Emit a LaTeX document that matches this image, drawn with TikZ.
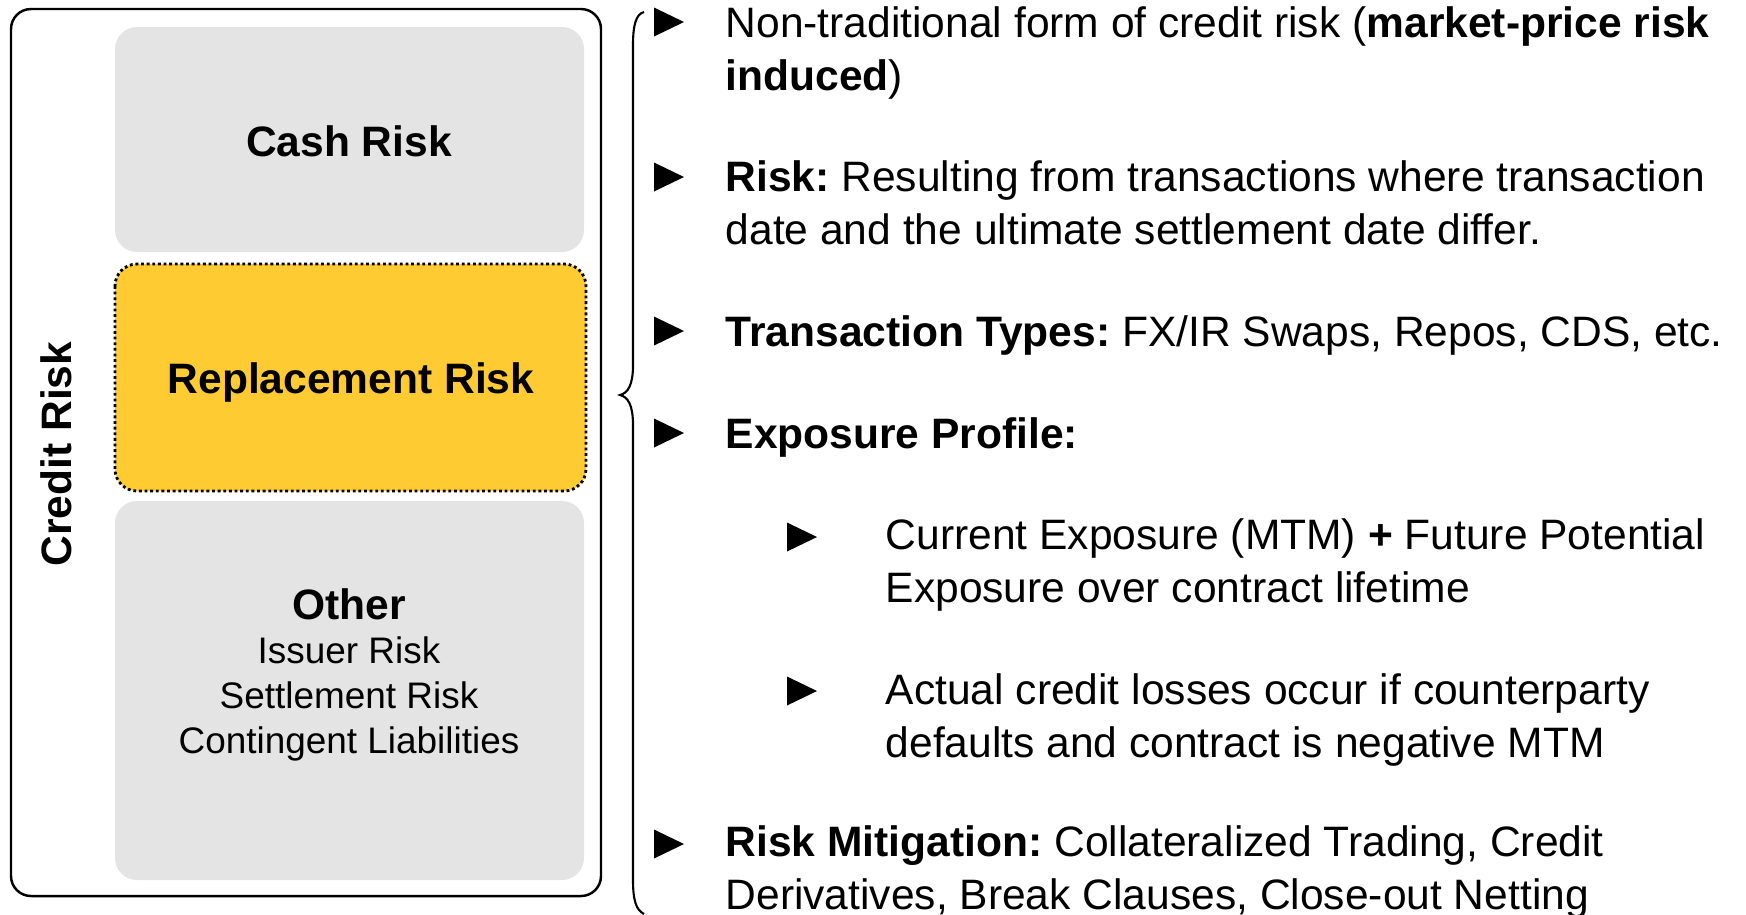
\documentclass[tikz,border=0pt]{standalone}
\usepackage{fontspec}
\setmainfont{Liberation Sans}
\frenchspacing
\definecolor{boxgray}{HTML}{E4E4E4}
\definecolor{boxyellow}{HTML}{FFCB32}
\begin{document}
\begin{tikzpicture}[x=0.01cm,y=-0.01cm,
  big/.style={font=\fontsize{12.1}{14.8}\selectfont},
  catbox/.style={fill=boxgray,rounded corners=0.22cm},
  hotbox/.style={fill=boxyellow,draw=black,line width=0.8pt,dash pattern=on 0.8pt off 0.8pt,rounded corners=0.22cm},
  bultext/.style={big,inner sep=0pt,anchor=base west,align=left},
  bul/.pic={\fill (-15,-14.5) -- (15,0) -- (-15,14.5) -- cycle;}]
\useasboundingbox (0,0) rectangle (1746,914);

% frame around the three categories
\draw[line width=0.7pt,rounded corners=0.2cm] (11,9) rectangle (601,896);
\node[big,font=\fontsize{12.1}{14.8}\selectfont\bfseries,rotate=90] (credit) at (56,454) {Credit Risk};

% category boxes
\fill[catbox] (115,27) rectangle (584,252);
\node[big,font=\fontsize{12.1}{14.8}\selectfont\bfseries] (cash) at (349,141) {Cash Risk};
\draw[hotbox] (115,264) rectangle (586,491);
\node[big,font=\fontsize{12.1}{14.8}\selectfont\bfseries] (repl) at (351,382) {Replacement Risk};
\fill[catbox] (115,501) rectangle (584,880);
% multi-line nodes are placed by the baseline of their last line
\node[font=\fontsize{10.5}{12.7}\selectfont,align=center,inner sep=0pt,anchor=base] (other) at (349,753)
  {{\fontsize{12.1}{12.7}\selectfont\bfseries Other}\\Issuer Risk\\Settlement Risk\\Contingent Liabilities};

% curly brace
\draw[line width=0.6pt] (644,12) .. controls (636,14) and (633,25) .. (633,45) -- (633,365)
  .. controls (633,385) and (628,393) .. (620,395) .. controls (628,397) and (633,405) .. (633,425)
  -- (633,880) .. controls (633,900) and (636,910) .. (644,914);

% bullet list
\pic at (669,22) {bul};
\node[bultext] (b1) at (725,90) {Non-traditional form of credit risk (\textbf{market-price risk}\\\textbf{induced})};
\pic at (669,177) {bul};
\node[bultext] (b2) at (725,244) {\textbf{Risk:} Resulting from transactions where transaction\\date and the ultimate settlement date differ.};
\pic at (669,331) {bul};
\node[bultext] (b3) at (725,346) {\textbf{Transaction Types:} FX/IR Swaps, Repos, CDS, etc.};
\pic at (669,433) {bul};
\node[bultext] (b4) at (725,448) {\textbf{Exposure Profile:}};
\pic at (802,537) {bul};
\node[bultext] (b41) at (885,602) {Current Exposure (MTM) \textbf{+} Future Potential\\Exposure over contract lifetime};
\pic at (802,691) {bul};
\node[bultext] (b42) at (885,757) {Actual credit losses occur if counterparty\\defaults and contract is negative MTM};
\pic at (669,844) {bul};
\node[bultext] (b5) at (725,909) {\textbf{Risk Mitigation:} Collateralized Trading, Credit\\Derivatives, Break Clauses, Close-out Netting};
\end{tikzpicture}
\end{document}
